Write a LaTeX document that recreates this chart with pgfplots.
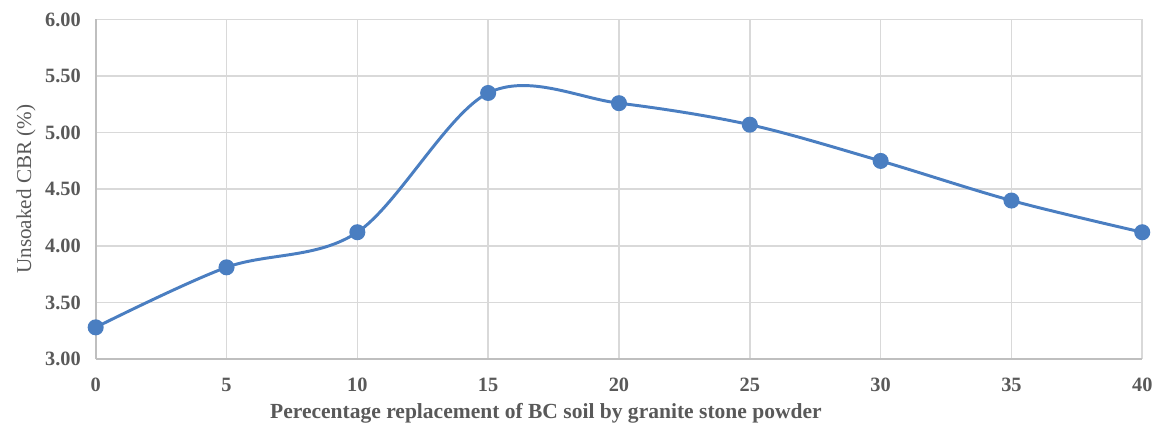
\documentclass[border={5pt 1pt 0pt 3pt}]{standalone}
\usepackage{fontspec}
\setmainfont{Liberation Serif}
\usepackage{pgfplots}
\pgfplotsset{compat=1.18}
\definecolor{linecol}{RGB}{74,126,193}
\definecolor{txtgray}{RGB}{89,89,89}
\definecolor{gridgray}{RGB}{217,217,217}
\definecolor{axgray}{RGB}{191,191,191}
\begin{document}
\begin{tikzpicture}
\begin{axis}[
  scale only axis,
  width=530pt, height=172pt,
  xmin=0, xmax=40, ymin=3, ymax=6,
  xtick={0,5,...,40},
  ytick={3,3.5,...,6},
  axis x line*=bottom, axis y line*=left,
  axis line style={axgray, line width=1pt},
  grid=major,
  major grid style={gridgray, line width=0.8pt},
  tick style={draw=none},
  font=\fontsize{10.3}{12}\selectfont,
  ticklabel style={txtgray, font=\fontsize{10.3}{12}\selectfont\bfseries},
  /pgf/number format/assume math mode=true,
  yticklabel={\pgfmathprintnumber[fixed,fixed zerofill,precision=2]{\tick}},
  xticklabel style={yshift=-6pt},
  yticklabel style={xshift=-4pt},
  xlabel={\bfseries Perecentage replacement of BC soil by granite stone powder},
  ylabel={Unsoaked CBR (\%)},
  label style={txtgray},
  xlabel style={font=\fontsize{10.9}{12}\selectfont, yshift=1pt, xshift=-37pt},
  ylabel style={font=\fontsize{10.7}{12}\selectfont, yshift=-2pt},
  clip=false,
]
\addplot[linecol, line width=1.5pt, smooth, tension=0.55, mark=*, mark size=3.3pt, mark options={fill=linecol, draw=linecol}]
coordinates {(0,3.28) (5,3.81) (10,4.12) (15,5.35) (20,5.26) (25,5.07) (30,4.75) (35,4.40) (40,4.12)};
\end{axis}
\end{tikzpicture}
\end{document}
